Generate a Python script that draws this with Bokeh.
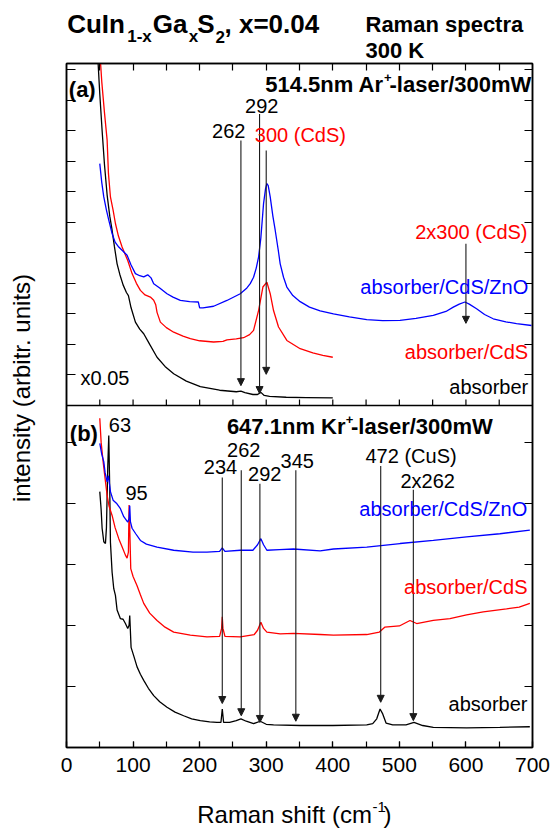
from bokeh.plotting import figure
from bokeh.layouts import column, row
from bokeh.models import (Range1d, LinearAxis, FixedTicker, SingleIntervalTicker,
                          Span, Label, Arrow, NormalHead)
from bokeh.embed import file_html
from bokeh.resources import INLINE

# ---------------- data ----------------
# panel (a): 514.5 nm excitation, intensity in panel-(a) tick units
a_absorber = [(47, 11.4), (50, 10.2), (53.5, 9.0), (57, 7.9), (61, 6.9), (65, 6.2), (68.5, 5.74),
              (72, 5.2), (76, 4.64), (80, 4.3), (85, 3.95), (90, 3.7), (93, 3.6), (97, 3.2),
              (103.5, 2.73), (110, 2.5), (116, 2.35), (125, 2.0), (136, 1.58), (148, 1.28),
              (161, 1.04), (180, 0.8), (201, 0.62), (230, 0.5), (255, 0.45), (262, 0.47),
              (268, 0.42), (280, 0.36), (287, 0.36), (292, 0.43), (297, 0.33), (305, 0.3),
              (330, 0.27), (360, 0.26), (400, 0.25)]
a_cds = [(50, 11.6), (53, 10.6), (57, 9.6), (61, 8.7), (63, 7.6), (66, 6.83), (70, 6.4),
         (73.5, 5.96), (78, 5.55), (83.5, 5.19), (88, 4.95), (92, 4.75), (98.5, 4.32), (105, 4.0),
         (111, 3.77), (118, 3.62), (126, 3.55), (131, 3.45), (134, 3.3), (136, 3.05), (141, 2.73),
         (150, 2.55), (161, 2.4), (175, 2.27), (186, 2.19), (200, 2.12), (221, 2.08), (235, 2.1),
         (241, 2.15), (255, 2.18), (266, 2.22), (275, 2.32), (281, 2.46), (288.5, 3.11),
         (295, 3.88), (301, 4.04), (306, 3.66), (311, 3.11), (318.5, 2.57), (331, 2.13),
         (351, 1.86), (370, 1.72), (385, 1.64), (400, 1.58)]
a_zno = [(50, 7.92), (53, 7.3), (56, 6.83), (60, 6.4), (63.5, 6.07), (68.5, 5.63), (73, 5.35),
         (78.5, 5.19), (85, 5.05), (91, 4.92), (97, 4.6), (103.5, 4.32), (110, 4.25), (116, 4.21),
         (122, 4.28), (127, 4.18), (131, 3.99), (140, 3.85), (151, 3.66), (160, 3.55), (171, 3.44),
         (185, 3.4), (198, 3.39), (200, 3.2), (205, 3.2), (221, 3.25), (241, 3.44), (261, 3.66),
         (271, 3.85), (276, 3.99), (281, 4.2), (285, 4.5), (288.5, 4.86), (292, 5.5), (296, 6.61),
         (299, 7.1), (301, 7.27), (303, 7.2), (306, 6.83), (310, 6.2), (313.5, 5.74), (318, 5.1),
         (321, 4.64), (326, 4.2), (331, 3.88), (340, 3.6), (351, 3.4), (365, 3.22), (381, 3.1),
         (401, 3.0), (425, 2.9), (451, 2.81), (475, 2.78), (501, 2.79), (525, 2.85), (551, 2.95),
         (570, 3.08), (581, 3.22), (590, 3.32), (598.5, 3.39), (605, 3.32), (616, 3.17),
         (628, 2.98), (641, 2.84), (660, 2.74), (676, 2.68), (698.5, 2.62)]

# panel (b): 647.1 nm excitation, intensity in panel-(b) tick units
b_absorber = [(50, 4.19), (52, 3.9), (53.5, 3.59), (56, 3.37), (58.5, 3.34), (60, 3.6), (62, 4.6),
              (63.5, 5.11), (65, 4.2), (66, 3.36), (68.5, 2.87), (71, 2.6), (73.5, 2.49), (76, 2.25),
              (81, 2.11), (85, 2.1), (88.5, 2.03), (92, 1.95), (94, 2.0), (95, 2.16), (97, 1.64),
              (101, 1.5), (106, 1.32), (111, 1.2), (116, 1.1), (123, 0.97), (131, 0.85), (140, 0.75),
              (151, 0.66), (163, 0.58), (176, 0.52), (188, 0.47), (201, 0.44), (215, 0.42),
              (226, 0.41), (232, 0.41), (234, 0.63), (236, 0.41), (245, 0.41), (255, 0.44),
              (262, 0.47), (270, 0.43), (281, 0.39), (291, 0.43), (300, 0.38), (311, 0.37),
              (351, 0.36), (400, 0.36), (451, 0.37), (460, 0.39), (466, 0.47), (471, 0.63),
              (475, 0.55), (480, 0.4), (490, 0.37), (510, 0.37), (522, 0.41), (535, 0.36),
              (551, 0.33), (601, 0.32), (651, 0.33), (696, 0.34)]
b_cds = [(50, 5.39), (52, 5.0), (55, 4.68), (58, 4.4), (61, 4.13), (64, 3.95), (68.5, 3.8),
         (73, 3.6), (78.5, 3.42), (83, 3.3), (88.5, 3.15), (91, 3.1), (93, 3.2), (94, 3.97),
         (95, 3.6), (96.5, 2.93), (100, 2.8), (106, 2.65), (111, 2.5), (116, 2.36), (125, 2.2),
         (136, 2.08), (148, 1.97), (161, 1.89), (186, 1.84), (211, 1.81), (230, 1.82), (233, 1.95),
         (234, 2.14), (235, 1.95), (238, 1.82), (261, 1.81), (282, 1.85), (287, 1.92), (292, 2.05),
         (296, 1.95), (301, 1.89), (321, 1.86), (341, 1.87), (381, 1.85), (401, 1.84), (451, 1.85),
         (470, 1.89), (478, 1.97), (500, 1.99), (516, 2.08), (526, 2.03), (551, 2.08), (576, 2.11),
         (601, 2.17), (626, 2.22), (661, 2.27), (680, 2.3), (696, 2.36)]
b_zno = [(50, 4.98), (53, 4.8), (56, 4.68), (58, 4.5), (61, 4.35), (63, 4.45), (66, 4.19),
         (70, 4.05), (75, 4.0), (81, 3.91), (86, 3.78), (92, 3.69), (94, 3.75), (95, 3.96),
         (96, 3.7), (98.5, 3.59), (104, 3.5), (111, 3.39), (120, 3.33), (136, 3.28), (161, 3.23),
         (190, 3.2), (211, 3.2), (230, 3.21), (234, 3.27), (238, 3.21), (261, 3.23), (280, 3.23),
         (287, 3.32), (292, 3.42), (296, 3.32), (301, 3.23), (320, 3.24), (341, 3.25), (381, 3.22),
         (401, 3.25), (451, 3.28), (501, 3.34), (551, 3.39), (601, 3.45), (651, 3.5), (696, 3.56)]

# peak markers: (raman shift, arrow start, arrow tip) in panel units
a_marks = [(262, 8.68, 0.65), (290, 9.55, 0.39), (300, 8.35, 1.02), (600, 5.30, 2.69)]
b_marks = [(234, 4.42, 0.72), (262.5, 4.54, 0.52), (290.5, 4.32, 0.41), (344.5, 4.54, 0.43),
           (472, 4.61, 0.74), (521, 4.22, 0.44)]

# ---------------- layout (picture pixels) ----------------
W, H = 554, 829
TOP_BOTTOM = 62                      # title strip: 0..62
LEFT_RIGHT = 48                      # y-label strip: 0..48
FX0, FY0, FW, FH = 66, 63, 466, 684  # plot frame
MAIN_BOTTOM = FY0 + FH + 38          # main plot: 62..785, x-label strip below
MAIN_H = MAIN_BOTTOM - TOP_BOTTOM
MW = W - LEFT_RIGHT
YB = 11.2             # panel (b) range top (default range)
YT = 11.2             # panel (a) range half-span
MID = YB / 2
FONT = "Liberation Sans"
MIDLINE = 0.33        # distance of a text's middle line above its baseline, in em


def blank(width, height, x0, x1, y_top, y_bottom):
    f = figure(width=width, height=height, x_range=Range1d(x0, x1),
               y_range=Range1d(y_bottom, y_top), output_backend="svg",
               toolbar_location=None, x_axis_location=None, y_axis_location=None,
               min_border=0)
    f.grid.visible = False
    f.outline_line_color = None
    return f


def put(f, x, y, text, size=20, color="black", align="left", bold=False, angle=0.0):
    f.add_layout(Label(x=x, y=y, text=text, text_font=FONT, text_font_size=f"{size}px",
                       text_color=color, text_align=align, text_baseline="middle",
                       text_font_style="bold" if bold else "normal", angle=angle))


def put_b(f, x, base, text, size=20, **kw):
    """place text by its baseline (picture pixels, y downwards)"""
    put(f, x, base - MIDLINE * size, text, size, **kw)


# ---- title strip (data units = picture pixels) ----
t = blank(W, TOP_BOTTOM, 0, W, 0, TOP_BOTTOM)
put_b(t, 66.7, 31.7, "CuIn", 26, bold=True)
put_b(t, 126.7, 41.7, "1-x", 17, bold=True)
put_b(t, 152.3, 31.7, "Ga", 26, bold=True)
put_b(t, 188.3, 41.7, "x", 17, bold=True)
put_b(t, 196.7, 31.7, "S", 26, bold=True)
put_b(t, 215.0, 41.7, "2", 17, bold=True)
put_b(t, 224.0, 31.7, ", x=0.04", 26, bold=True)
put_b(t, 365, 31.7, "Raman spectra", 22, bold=True)
put_b(t, 365, 57.0, "300 K", 22, bold=True)

# ---- y-label strip (its frame is aligned with the plot frame) ----
l_strip = blank(LEFT_RIGHT, MAIN_H, 0, LEFT_RIGHT, FY0, FY0 + FH)
put(l_strip, 28.5 - MIDLINE * 24, 387.5, "intensity (arbitr. units)", 24, align="center",
    angle=1.5707963)

# ---- x-label strip ----
b_strip = blank(W, H - MAIN_BOTTOM, 0, W, MAIN_BOTTOM, H)
put_b(b_strip, 196.7, 822, "Raman shift (cm", 24)
put_b(b_strip, 372.0, 811, "-1", 15)
put_b(b_strip, 383.0, 822, ")", 24)

# ---- main plot ----
p = figure(width=MW, height=MAIN_H, x_range=Range1d(0, 700), y_range=Range1d(0, YB),
           output_backend="svg", toolbar_location=None,
           min_border_left=FX0 - LEFT_RIGHT, min_border_right=MW - (FX0 - LEFT_RIGHT) - FW,
           min_border_top=FY0 - TOP_BOTTOM, min_border_bottom=MAIN_BOTTOM - FY0 - FH,
           x_axis_location=None, y_axis_location=None)
p.extra_y_ranges = {"top": Range1d(-YT, YT)}
p.grid.visible = False
p.outline_line_color = "black"
p.outline_line_width = 1.5


def tick_axis(minor, tick_len):
    ax = LinearAxis(ticker=FixedTicker(ticks=[], minor_ticks=minor))
    ax.minor_tick_in = tick_len
    ax.minor_tick_out = 0
    ax.major_tick_in = 0
    ax.major_tick_out = 0
    ax.axis_line_width = 1.5
    ax.minor_tick_line_width = 1.2
    ax.major_label_standoff = 0
    return ax


bottom_ax = LinearAxis(ticker=SingleIntervalTicker(interval=100, num_minor_ticks=2))
bottom_ax.major_tick_in = 6
bottom_ax.major_tick_out = 0
bottom_ax.minor_tick_in = 6
bottom_ax.minor_tick_out = 0
bottom_ax.axis_line_width = 1.5
bottom_ax.major_tick_line_width = 1.2
bottom_ax.minor_tick_line_width = 1.2
bottom_ax.major_label_text_font = FONT
bottom_ax.major_label_text_font_size = "21px"
bottom_ax.major_label_text_color = "black"
bottom_ax.major_label_standoff = 10
p.add_layout(bottom_ax, "below")

x_minor = [50 * k for k in range(1, 14)]
y_minor = [1, 2, 3, 4, 5] + [MID + 0.5 * k for k in range(1, 12)]
p.add_layout(tick_axis(x_minor, 7), "above")
p.add_layout(tick_axis(y_minor, 9), "left")
p.add_layout(tick_axis(y_minor, 8), "right")

# boundary between the panels with the inward ticks of panel (a)
p.add_layout(Span(location=MID, dimension="width", line_color="black", line_width=1.5))
tick_h = 6 * YB / FH
p.segment(x0=x_minor, y0=[MID] * len(x_minor), x1=x_minor, y1=[MID + tick_h] * len(x_minor),
          line_color="black", line_width=1.2)

# spectra
for series, color in ((a_absorber, "black"), (a_cds, "#ff0000"), (a_zno, "#0000ff")):
    p.line([s[0] for s in series], [s[1] for s in series], y_range_name="top",
           line_color=color, line_width=1.3)
for series, color in ((b_absorber, "black"), (b_cds, "#ff0000"), (b_zno, "#0000ff")):
    p.line([s[0] for s in series], [s[1] for s in series],
           line_color=color, line_width=1.3)

# arrows
AC = "#1a1a1a"
for x, y0, y1 in a_marks:
    p.add_layout(Arrow(end=NormalHead(size=7, fill_color=AC, line_color=AC, line_width=1),
                       x_start=x, y_start=MID + y0 / 2, x_end=x, y_end=MID + y1 / 2,
                       line_color=AC, line_width=1.1))
for x, y0, y1 in b_marks:
    p.add_layout(Arrow(end=NormalHead(size=7, fill_color=AC, line_color=AC, line_width=1),
                       x_start=x, y_start=y0, x_end=x, y_end=y1,
                       line_color=AC, line_width=1.1))


def dx(px):
    return (px - FX0) * 700 / FW


def dy(py):
    return (FY0 + FH - py) * YB / FH


def txt(px, base, text, size=20, color="black", align="left", bold=False):
    put(p, dx(px), dy(base - MIDLINE * size), text, size, color, align, bold)


# panel (a)
txt(68.3, 96, "(a)", 22, bold=True)
txt(383.3, 91, "514.5nm Ar", 22, align="right", bold=True)
txt(383.5, 81, "+", 13, bold=True)
txt(389.0, 91, "-laser/300mW", 22, bold=True)
txt(261.2, 111.7, "292", align="center")
txt(228.3, 136.7, "262", align="center")
txt(254.3, 141, "300 (CdS)", color="#ff0000")
txt(527, 237.7, "2x300 (CdS)", color="#ff0000", align="right")
txt(527.7, 293.3, "absorber/CdS/ZnO", color="#0000ff", align="right")
txt(527.7, 357.7, "absorber/CdS", color="#ff0000", align="right")
txt(527.7, 393.3, "absorber", align="right")
txt(80, 384, "x0.05")

# panel (b)
txt(69.3, 440, "(b)", 22, bold=True)
txt(345, 433, "647.1nm Kr", 22, align="right", bold=True)
txt(345.3, 423, "+", 13, bold=True)
txt(350.5, 433, "-laser/300mW", 22, bold=True)
txt(108.3, 431, "63")
txt(125, 499, "95")
txt(220, 473.3, "234", align="center")
txt(243.3, 456, "262", align="center")
txt(264.2, 480, "292", align="center")
txt(296.7, 466.7, "345", align="center")
txt(365, 461.7, "472 (CuS)")
txt(400, 486.7, "2x262")
txt(526.7, 515, "absorber/CdS/ZnO", color="#0000ff", align="right")
txt(527, 593.3, "absorber/CdS", color="#ff0000", align="right")
txt(527, 710, "absorber", align="right")

layout = column(t, row(l_strip, p), b_strip)
open("out.html", "w").write(file_html(layout, INLINE))
